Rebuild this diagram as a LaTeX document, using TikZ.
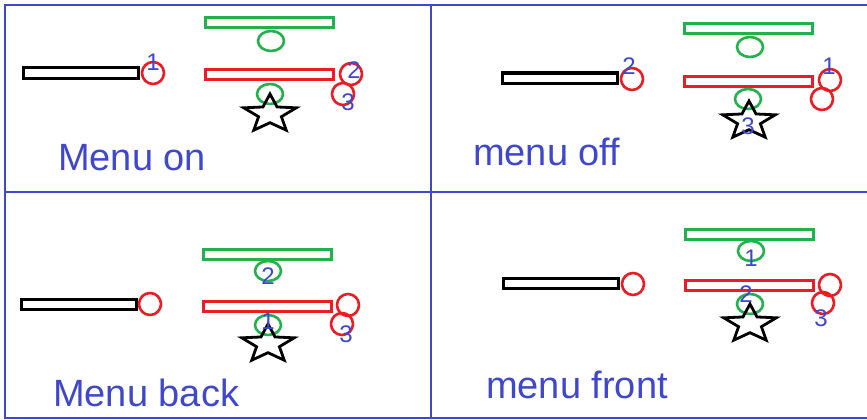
\documentclass[tikz,border=0pt]{standalone}
\usepackage{fontspec}
\setmainfont{Liberation Sans}
\usetikzlibrary{shapes.geometric}
\definecolor{pen}{HTML}{3F48CC}
\definecolor{grn}{HTML}{22B14C}
\definecolor{rd} {HTML}{ED1C24}
\tikzset{
  panel/.style    = {draw=pen, line width=2pt},
  bar/.style      = {rectangle, draw, line width=3pt, inner sep=0pt,
                     minimum width=128pt, minimum height=10pt},
  slider/.style   = {bar, draw=black, minimum width=115pt},
  greenbar/.style = {bar, draw=grn},
  redbar/.style   = {bar, draw=rd},
  knob/.style     = {circle, draw=rd, line width=2.6pt, inner sep=0pt,
                     minimum size=22pt},
  gdot/.style     = {ellipse, draw=grn, line width=2.6pt, inner sep=0pt,
                     minimum width=26pt, minimum height=20pt},
  starmark/.style = {star, star points=5, star point ratio=2.3, draw=black,
                     line width=2.8pt, inner sep=0pt, minimum size=40pt,
                     xscale=1.38, transform shape},
  num/.style      = {text=pen, font=\fontsize{24}{24}\selectfont, inner sep=0pt},
  scrawl/.style   = {text=pen, font=\fontsize{38}{38}\selectfont,
                     inner sep=0pt, anchor=base west},
}

\begin{document}
\begin{tikzpicture}[x=1pt, y=-1pt]
  \useasboundingbox (0,0) rectangle (867,420);

  % grid of four panels (open on the right)
  \draw[panel] (867,5) -- (5,5) -- (5,418) -- (867,418);
  \draw[panel] (5,192) -- (867,192);
  \draw[panel] (431,5) -- (431,418);

  % menu on
  \node[slider]   (blk1) at (80.5,73) {};
  \node[knob]     (k1)   at (153,73) {};
  \node[greenbar] (gb1)  at (269,23) {};
  \node[gdot]     (gt1)  at (271,41) {};
  \node[redbar]   (rb1)  at (269,74.5) {};
  \node[knob]     (ka1)  at (351,74) {};
  \node[knob]     (kb1)  at (343,94) {};
  \node[gdot]     (gd1)  at (270,94) {};
  \node[starmark] (st1)  at (270,114) {};
  \node[num] at (153,62) {1};
  \node[num] at (354,70) {2};
  \node[num] at (348,102) {3};
  \node[scrawl] (lab1) at (58,170) {Menu on};

  % menu off
  \node[slider]   (blk2) at (559.5,78) {};
  \node[knob]     (k2)   at (632,79) {};
  \node[greenbar] (gb2)  at (748,28.5) {};
  \node[gdot]     (gt2)  at (750,47) {};
  \node[redbar]   (rb2)  at (748,81) {};
  \node[knob]     (ka2)  at (830,80) {};
  \node[knob]     (kb2)  at (822,99) {};
  \node[gdot]     (gd2)  at (748,99) {};
  \node[starmark] (st2)  at (749,121) {};
  \node[num] at (629,66) {2};
  \node[num] at (829,66) {1};
  \node[num] at (748,126) {3};
  \node[scrawl] (lab2) at (473,165) {menu off};

  % menu back
  \node[greenbar] (gb3)  at (267,254) {};
  \node[gdot]     (gt3)  at (268,271) {};
  \node[slider]   (blk3) at (78.5,304) {};
  \node[knob]     (k3)   at (150,304) {};
  \node[redbar]   (rb3)  at (267,306.5) {};
  \node[knob]     (ka3)  at (348,305) {};
  \node[knob]     (kb3)  at (342,324) {};
  \node[gdot]     (gd3)  at (268,325) {};
  \node[starmark] (st3)  at (268,344) {};
  \node[num] at (268,276) {2};
  \node[num] at (268,321) {1};
  \node[num] at (346,334) {3};
  \node[scrawl] (lab3) at (53,406) {Menu back};

  % menu front
  \node[greenbar] (gb4)  at (749.5,234) {};
  \node[gdot]     (gt4)  at (751,251) {};
  \node[slider]   (blk4) at (560.5,283.5) {};
  \node[knob]     (k4)   at (633,284) {};
  \node[redbar]   (rb4)  at (749.5,285.5) {};
  \node[knob]     (ka4)  at (830,285) {};
  \node[knob]     (kb4)  at (823,303) {};
  \node[gdot]     (gd4)  at (750,304) {};
  \node[starmark] (st4)  at (750,324) {};
  \node[num] at (751,258) {1};
  \node[num] at (746,294) {2};
  \node[num] at (821,318) {3};
  \node[scrawl] (lab4) at (486,398) {menu front};

\end{tikzpicture}
\end{document}
